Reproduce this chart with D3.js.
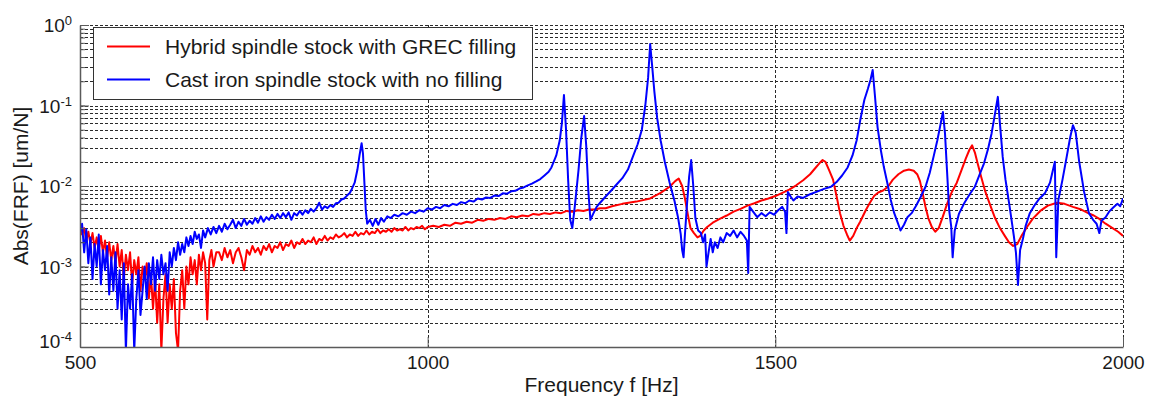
<!DOCTYPE html>
<html>
<head>
<meta charset="utf-8">
<script src="https://cdn.jsdelivr.net/npm/d3@7"></script>
<style>
  body { margin: 0; background: #fff; }
  text { font-family: "Liberation Sans", Arial, sans-serif; fill: #1a1a1a; }
</style>
</head>
<body>
<svg id="frf-chart"></svg>
<script>
// tick values
var xTicks = [500, 1000, 1500, 2000];
var yDecades = [1e-4, 1e-3, 1e-2, 1e-1, 1];
var xGridLines = [1000, 1500, 2000];

var seriesNames = ["Hybrid spindle stock with GREC filling", "Cast iron spindle stock with no filling"];
var seriesColors = ["#ff0000", "#0000ff"];

// [frequency Hz, |FRF| um/N]
var hybridData = [
  [500,3.3e-3],[503,2.5e-3],[506,3.0e-3],[509,2.1e-3],[512,2.7e-3],[515,1.9e-3],[518,2.6e-3],[521,1.7e-3],
  [524,2.3e-3],[527,1.6e-3],[530,2.4e-3],[533,1.5e-3],[536,2.1e-3],[539,1.3e-3],[542,2.0e-3],[545,1.2e-3],
  [548,1.8e-3],[551,1.1e-3],[554,1.9e-3],[557,1.0e-3],[560,1.6e-3],[563,7e-4],[566,1.4e-3],[569,9e-4],
  [572,1.5e-3],[575,6e-4],[578,1.2e-3],[581,8e-4],[584,1.3e-3],[587,5e-4],[590,1.0e-3],[593,7e-4],
  [596,1.1e-3],[599,4e-4],[602,8e-4],[605,3e-4],[608,7e-4],[611,2e-4],[614,6e-4],[617,9e-5],
  [620,4e-4],[623,8e-4],[626,2e-4],[629,6e-4],[632,3e-4],[635,7e-4],[638,1.5e-4],[641,9e-5],
  [644,5e-4],[647,9e-4],[650,3e-4],[653,1.0e-3],[656,6e-4],[659,1.3e-3],[662,8e-4],[665,1.2e-3],
  [668,6e-4],[671,1.4e-3],[674,9e-4],[677,1.5e-3],[680,1.1e-3],[683,2.2e-4],[686,1.2e-3],[689,1.6e-3],
  [692,1.0e-3],[696,1.5e-3],[700,1.5e-3],[704,1.2e-3],[708,1.7e-3],[712,1.3e-3],[716,1.6e-3],[720,1.1e-3],
  [724,1.5e-3],[728,1.7e-3],[732,1.3e-3],[736,9e-4],[740,1.6e-3],[744,1.4e-3],[748,1.8e-3],[752,1.5e-3],
  [756,1.7e-3],[760,1.4e-3],[764,1.8e-3],[768,1.6e-3],[772,1.9e-3],[776,1.5e-3],[780,1.8e-3],[784,1.7e-3],
  [788,2.0e-3],[792,1.6e-3],[796,1.9e-3],[800,1.8e-3],[804,2.1e-3],[808,1.7e-3],[812,2.0e-3],[816,1.9e-3],
  [820,2.2e-3],[824,1.9e-3],[828,2.1e-3],[832,2.0e-3],[836,2.3e-3],[840,1.9e-3],[844,2.2e-3],[848,2.1e-3],
  [852,2.4e-3],[856,2.1e-3],[860,2.3e-3],[864,2.2e-3],[868,2.5e-3],[872,2.3e-3],[876,2.4e-3],[880,2.6e-3],
  [884,2.3e-3],[888,2.5e-3],[892,2.4e-3],[896,2.7e-3],[900,2.4e-3],[904,2.6e-3],[908,2.5e-3],[912,2.8e-3],
  [916,2.5e-3],[920,2.7e-3],[924,2.6e-3],[928,2.9e-3],[932,2.6e-3],[936,2.8e-3],[940,2.7e-3],[944,2.9e-3],
  [948,2.7e-3],[952,3.0e-3],[956,2.8e-3],[960,2.9e-3],[964,2.8e-3],[968,3.1e-3],[972,2.8e-3],[976,3.0e-3],
  [980,2.9e-3],[984,3.1e-3],[988,3.0e-3],[992,3.2e-3],[996,2.9e-3],[1000,3.1e-3],[1008,3.2e-3],[1016,3.1e-3],
  [1024,3.3e-3],[1032,3.2e-3],[1040,3.5e-3],[1048,3.4e-3],[1056,3.6e-3],[1064,3.5e-3],[1072,3.8e-3],[1080,3.7e-3],
  [1088,3.9e-3],[1096,3.8e-3],[1104,4.0e-3],[1112,3.9e-3],[1120,4.2e-3],[1128,4.1e-3],[1136,4.3e-3],[1144,4.2e-3],
  [1152,4.5e-3],[1160,4.4e-3],[1168,4.6e-3],[1176,4.5e-3],[1184,4.7e-3],[1192,4.6e-3],[1200,4.9e-3],[1208,4.8e-3],
  [1216,5.0e-3],[1224,4.9e-3],[1232,5.1e-3],[1240,5.1e-3],[1248,5.3e-3],[1256,5.3e-3],[1265,5.6e-3],[1280,6.0e-3],
  [1300,6.4e-3],[1320,7.0e-3],[1335,8.2e-3],[1348,9.8e-3],[1356,0.0115],
  [1361,0.0124],[1366,0.0100],[1370,7.0e-3],[1374,4.5e-3],[1378,3.0e-3],[1383,2.6e-3],[1388,2.3e-3],[1392,2.4e-3],
  [1397,2.8e-3],[1402,3.1e-3],[1410,3.5e-3],[1420,3.9e-3],[1430,4.3e-3],[1440,4.8e-3],[1450,5.2e-3],[1460,5.7e-3],
  [1470,6.1e-3],[1480,6.6e-3],[1490,7.0e-3],[1500,7.5e-3],[1510,8.2e-3],[1520,9.0e-3],[1530,0.0102],[1540,0.0118],
  [1550,0.014],[1557,0.0165],[1563,0.019],[1568,0.021],[1572,0.020],[1577,0.016],[1583,0.012],[1588,7.5e-3],
  [1593,4.6e-3],[1598,3.2e-3],[1603,2.5e-3],[1607,2.1e-3],[1612,2.4e-3],[1617,3.0e-3],[1622,3.6e-3],[1630,5.0e-3],
  [1636,6.2e-3],[1642,7.5e-3],[1648,8.3e-3],[1655,8.8e-3],[1662,9.8e-3],[1669,0.012],[1677,0.014],[1685,0.0155],
  [1692,0.016],[1699,0.0155],[1704,0.014],[1708,0.0115],[1712,8.0e-3],[1716,5.5e-3],[1720,4.0e-3],[1725,3.1e-3],
  [1730,2.7e-3],[1735,3.0e-3],[1741,4.2e-3],[1747,6.0e-3],[1754,8.5e-3],[1761,0.011],[1768,0.016],[1774,0.022],
  [1779,0.028],[1783,0.032],[1787,0.026],[1791,0.019],[1796,0.013],[1802,8.5e-3],[1809,5.8e-3],[1816,4.0e-3],
  [1823,3.0e-3],[1830,2.4e-3],[1836,2.0e-3],[1842,1.8e-3],[1848,1.9e-3],[1854,2.4e-3],[1862,3.1e-3],[1870,3.9e-3],
  [1881,4.9e-3],[1892,5.7e-3],[1905,6.2e-3],[1916,6.0e-3],[1928,5.5e-3],[1940,5.1e-3],[1950,4.6e-3],[1958,4.3e-3],
  [1966,3.9e-3],[1975,3.4e-3],[1985,3.0e-3],[1993,2.7e-3],[2000,2.4e-3]
];

var castIronData = [
  [500,2.6e-3],[503,3.4e-3],[506,1.5e-3],[509,2.9e-3],[512,1.1e-3],[515,2.3e-3],[518,7e-4],[521,1.9e-3],
  [524,1.0e-3],[527,2.5e-3],[530,6e-4],[533,1.6e-3],[536,9e-4],[539,1.8e-3],[542,4.5e-4],[545,1.3e-3],
  [548,5e-4],[551,1.5e-3],[554,3e-4],[557,9e-4],[560,2.2e-4],[563,1.1e-3],[566,9e-5],[569,6e-4],
  [572,3e-4],[575,8e-4],[578,9e-5],[581,4e-4],[584,9e-4],[587,2.5e-4],[590,5e-4],[593,1.0e-3],
  [596,4e-4],[599,1.1e-3],[602,6e-4],[605,1.3e-3],[608,5e-4],[611,1.2e-3],[614,7e-4],[617,1.4e-3],
  [620,8e-4],[623,1.1e-3],[626,5e-4],[629,1.5e-3],[632,1.0e-3],[635,1.7e-3],[638,1.2e-3],[641,2.0e-3],
  [644,1.4e-3],[647,1.9e-3],[650,1.5e-3],[653,2.3e-3],[656,1.8e-3],[659,2.4e-3],[662,1.9e-3],[665,2.7e-3],
  [668,2.2e-3],[671,2.5e-3],[674,1.7e-3],[677,2.8e-3],[680,2.3e-3],[684,3.0e-3],[688,2.5e-3],[692,3.1e-3],
  [696,2.6e-3],[700,3.2e-3],[704,2.7e-3],[708,3.4e-3],[712,2.9e-3],[716,3.3e-3],[720,3.8e-3],[724,3.0e-3],
  [728,3.6e-3],[732,3.2e-3],[736,3.9e-3],[740,3.3e-3],[744,3.7e-3],[748,3.4e-3],[752,4.0e-3],[756,3.5e-3],
  [760,4.2e-3],[764,3.6e-3],[768,4.1e-3],[772,3.8e-3],[776,4.4e-3],[780,3.9e-3],[784,4.5e-3],[788,4.0e-3],
  [792,4.6e-3],[796,4.1e-3],[800,4.7e-3],[804,3.8e-3],[808,4.6e-3],[812,4.3e-3],[816,4.9e-3],[820,4.4e-3],
  [824,5.0e-3],[828,4.6e-3],[832,5.2e-3],[836,4.8e-3],[840,5.3e-3],[844,6.2e-3],[848,5.1e-3],[852,5.6e-3],
  [856,5.3e-3],[860,5.8e-3],[864,5.5e-3],[868,6.1e-3],[872,6.2e-3],[876,6.8e-3],[880,7.0e-3],[884,7.6e-3],
  [888,8.2e-3],[891,9.2e-3],[895,0.011],[899,0.016],[902,0.024],[905,0.034],
  [907,0.025],[909,0.011],[911,5e-3],[913,3.4e-3],[917,3.8e-3],[921,3.2e-3],[925,3.9e-3],[929,3.3e-3],
  [933,4.0e-3],[937,3.6e-3],[942,4.2e-3],[947,4.0e-3],[952,4.4e-3],[958,4.2e-3],[964,4.6e-3],[970,4.4e-3],
  [976,4.8e-3],[982,4.6e-3],[988,5.0e-3],[994,4.8e-3],[1000,5.3e-3],[1006,5.1e-3],[1012,5.5e-3],[1018,5.3e-3],
  [1024,5.8e-3],[1030,5.6e-3],[1036,6.0e-3],[1042,5.8e-3],[1048,6.3e-3],[1054,6.1e-3],[1060,6.6e-3],[1066,6.4e-3],
  [1072,7.0e-3],[1078,6.8e-3],[1084,7.2e-3],[1090,7.1e-3],[1096,7.6e-3],[1102,7.5e-3],[1108,8.1e-3],[1114,8.0e-3],
  [1120,8.6e-3],[1126,8.7e-3],[1132,9.3e-3],[1138,9.6e-3],[1144,0.0102],[1150,0.0107],[1156,0.0114],[1162,0.0122],
  [1168,0.0135],[1174,0.015],[1178,0.017],[1185,0.024],[1190,0.037],[1193,0.06],
  [1196,0.135],[1199,0.05],[1202,0.012],[1205,3.8e-3],[1208,3.0e-3],[1212,6.0e-3],[1217,0.016],[1221,0.04],
  [1225,0.074],[1228,0.032],[1231,9.0e-3],[1234,3.8e-3],[1238,4.5e-3],[1243,5.5e-3],[1248,6.2e-3],[1256,7.4e-3],
  [1264,8.8e-3],[1272,0.0105],[1280,0.0125],[1288,0.016],[1295,0.023],[1302,0.033],[1308,0.05],[1313,0.10],
  [1317,0.22],[1320,0.58],[1323,0.30],[1326,0.15],[1330,0.07],[1335,0.037],[1341,0.020],[1348,0.011],
  [1355,6.5e-3],[1360,4.1e-3],[1364,2.5e-3],[1366,1.6e-3],[1368,1.3e-3],[1370,2.5e-3],[1373,6.0e-3],[1376,0.013],
  [1379,0.021],[1382,0.010],[1385,4.0e-3],[1389,2.8e-3],[1393,2.6e-3],[1396,2.0e-3],[1399,2.5e-3],[1401,1.0e-3],
  [1404,1.5e-3],[1407,2.2e-3],[1410,1.5e-3],[1413,2.0e-3],[1417,1.7e-3],[1421,2.3e-3],[1425,2.0e-3],[1430,2.6e-3],
  [1435,2.4e-3],[1440,2.8e-3],[1445,2.3e-3],[1450,2.7e-3],[1455,2.4e-3],[1459,2.1e-3],[1461,8.3e-4],[1463,5.5e-3],
  [1468,4.8e-3],[1474,4.1e-3],[1480,4.6e-3],[1486,4.2e-3],[1492,4.7e-3],[1498,4.4e-3],[1504,5.0e-3],[1510,5.5e-3],
  [1514,4.8e-3],[1516,2.6e-3],[1518,8.4e-3],[1522,7.4e-3],[1526,6.6e-3],[1532,7.4e-3],[1540,7.1e-3],[1550,7.9e-3],
  [1560,8.5e-3],[1570,9.2e-3],[1580,9.8e-3],[1588,0.0112],[1596,0.0135],[1604,0.017],[1611,0.024],[1617,0.037],
  [1622,0.065],[1628,0.117],[1633,0.16],[1637,0.21],[1640,0.276],[1643,0.14],[1647,0.054],[1652,0.027],
  [1656,0.0173],[1661,0.011],[1666,6.7e-3],[1671,4.6e-3],[1676,3.5e-3],[1680,2.8e-3],[1685,3.3e-3],[1690,4.1e-3],
  [1696,4.6e-3],[1702,5.6e-3],[1709,7.3e-3],[1716,9.8e-3],[1722,0.0145],[1728,0.024],[1733,0.037],[1737,0.055],
  [1741,0.083],[1744,0.045],[1747,0.015],[1750,5.0e-3],[1753,3.1e-3],[1755,1.3e-3],[1758,2.8e-3],[1764,4.5e-3],
  [1772,6.2e-3],[1780,8.0e-3],[1787,9.8e-3],[1794,0.014],[1800,0.019],[1806,0.029],[1811,0.045],[1816,0.08],
  [1820,0.128],[1823,0.06],[1827,0.023],[1831,0.012],[1837,5.5e-3],[1843,2.4e-3],[1846,1.5e-3],[1849,5.9e-4],
  [1852,1.6e-3],[1856,2.2e-3],[1860,3.2e-3],[1866,4.6e-3],[1873,5.8e-3],[1880,7.0e-3],[1888,8.2e-3],[1895,0.011],
  [1902,0.020],[1904,1.3e-3],[1907,6.7e-3],[1913,0.012],[1919,0.023],[1924,0.04],[1928,0.057],[1932,0.046],
  [1937,0.020],[1944,8.5e-3],[1951,4.6e-3],[1957,3.8e-3],[1962,3.4e-3],[1966,2.6e-3],[1969,3.7e-3],[1975,4.1e-3],
  [1980,4.8e-3],[1986,5.4e-3],[1992,6.0e-3],[1996,5.6e-3],[2000,7.0e-3]
];

var width = 1151, height = 402;
var margin = { top: 25, right: 28, bottom: 55, left: 80 };

var svg = d3.select("#frf-chart")
    .attr("width", width)
    .attr("height", height);

var x = d3.scaleLinear()
    .domain([500, 2000])
    .range([margin.left, width - margin.right]);

var y = d3.scaleLog()
    .domain([1e-4, 1])
    .range([height - margin.bottom, margin.top]);

svg.append("defs").append("clipPath").attr("id", "plot-clip")
    .append("rect")
    .attr("x", margin.left).attr("y", margin.top)
    .attr("width", x(2000) - x(500)).attr("height", y(1e-4) - y(1));

// dotted grid, every log tick
svg.append("g")
    .attr("stroke", "#2a2a2a")
    .attr("stroke-width", 1)
    .attr("stroke-dasharray", "3,2")
    .selectAll("line")
    .data(y.ticks().filter(d => d > 1e-4))
    .join("line")
    .attr("x1", x(500)).attr("x2", x(2000))
    .attr("y1", d => Math.round(y(d)) + 0.5)
    .attr("y2", d => Math.round(y(d)) + 0.5);

svg.append("g")
    .attr("stroke", "#2a2a2a")
    .attr("stroke-width", 1)
    .attr("stroke-dasharray", "3,2")
    .selectAll("line")
    .data(xGridLines)
    .join("line")
    .attr("x1", d => Math.round(x(d)) + 0.5)
    .attr("x2", d => Math.round(x(d)) + 0.5)
    .attr("y1", y(1)).attr("y2", y(1e-4));

var line = d3.line()
    .x(d => x(d[0]))
    .y(d => y(d[1]));

var curves = svg.append("g").attr("clip-path", "url(#plot-clip)");
[hybridData, castIronData].forEach(function (data, i) {
    curves.append("path")
        .datum(data)
        .attr("fill", "none")
        .attr("stroke", seriesColors[i])
        .attr("stroke-width", 2)
        .attr("stroke-linejoin", "round")
        .attr("d", line);
});

// x axis
svg.append("g")
    .attr("transform", `translate(0,${y(1e-4)})`)
    .call(d3.axisBottom(x).tickValues(xTicks).tickFormat(d3.format("d"))
        .tickSizeInner(-10).tickSizeOuter(0).tickPadding(9))
    .call(g => g.select(".domain").attr("stroke", "#5a5a5a").attr("stroke-width", 1.5))
    .call(g => g.selectAll(".tick line").attr("stroke", "#5a5a5a"))
    .call(g => g.selectAll(".tick text").attr("font-size", 19).attr("fill", "#1a1a1a")
        .attr("font-family", "Liberation Sans, Arial, sans-serif"));

// y axis: minor ticks, then decades with 10^n labels
svg.append("g")
    .attr("transform", `translate(${x(500)},0)`)
    .call(d3.axisLeft(y).tickValues(y.ticks()).tickSizeInner(-5).tickSizeOuter(0).tickFormat(""))
    .call(g => g.select(".domain").attr("stroke", "#5a5a5a").attr("stroke-width", 1.5))
    .call(g => g.selectAll(".tick line").attr("stroke", "#5a5a5a"));

svg.append("g")
    .attr("transform", `translate(${x(500)},0)`)
    .call(d3.axisLeft(y).tickValues(yDecades).tickSizeInner(-9).tickSizeOuter(0).tickPadding(8))
    .call(g => g.select(".domain").remove())
    .call(g => g.selectAll(".tick line").attr("stroke", "#5a5a5a"))
    .call(g => g.selectAll(".tick text")
        .attr("font-size", 19)
        .attr("fill", "#1a1a1a")
        .attr("font-family", "Liberation Sans, Arial, sans-serif")
        .attr("dy", d => d === 1e-4 ? "0.05em" : "0.35em")
        .each(function (d) {
            var t = d3.select(this).text("10");
            t.append("tspan")
                .attr("dy", "-0.55em")
                .attr("font-size", 13)
                .text(Math.round(Math.log10(d)));
        }));

// axis titles
svg.append("text")
    .attr("x", (x(500) + x(2000)) / 2)
    .attr("y", 392)
    .attr("text-anchor", "middle")
    .attr("font-size", 21)
    .text("Frequency f [Hz]");

svg.append("text")
    .attr("transform", `translate(28,${(y(1) + y(1e-4)) / 2}) rotate(-90)`)
    .attr("text-anchor", "middle")
    .attr("font-size", 21)
    .text("Abs(FRF) [um/N]");

// legend
var legend = svg.append("g").attr("transform", "translate(93,27)");
legend.append("rect")
    .attr("x", 0.5).attr("y", 0.5)
    .attr("width", 439).attr("height", 72)
    .attr("fill", "#fff")
    .attr("stroke", "#333")
    .attr("stroke-width", 1);

seriesNames.forEach(function (name, i) {
    var row = legend.append("g").attr("transform", `translate(0,${19.5 + i * 33})`);
    row.append("line")
        .attr("x1", 14).attr("x2", 57)
        .attr("stroke", seriesColors[i])
        .attr("stroke-width", 2);
    row.append("text")
        .attr("x", 72)
        .attr("dy", "0.35em")
        .attr("font-size", 21)
        .text(name);
});
</script>
</body>
</html>
